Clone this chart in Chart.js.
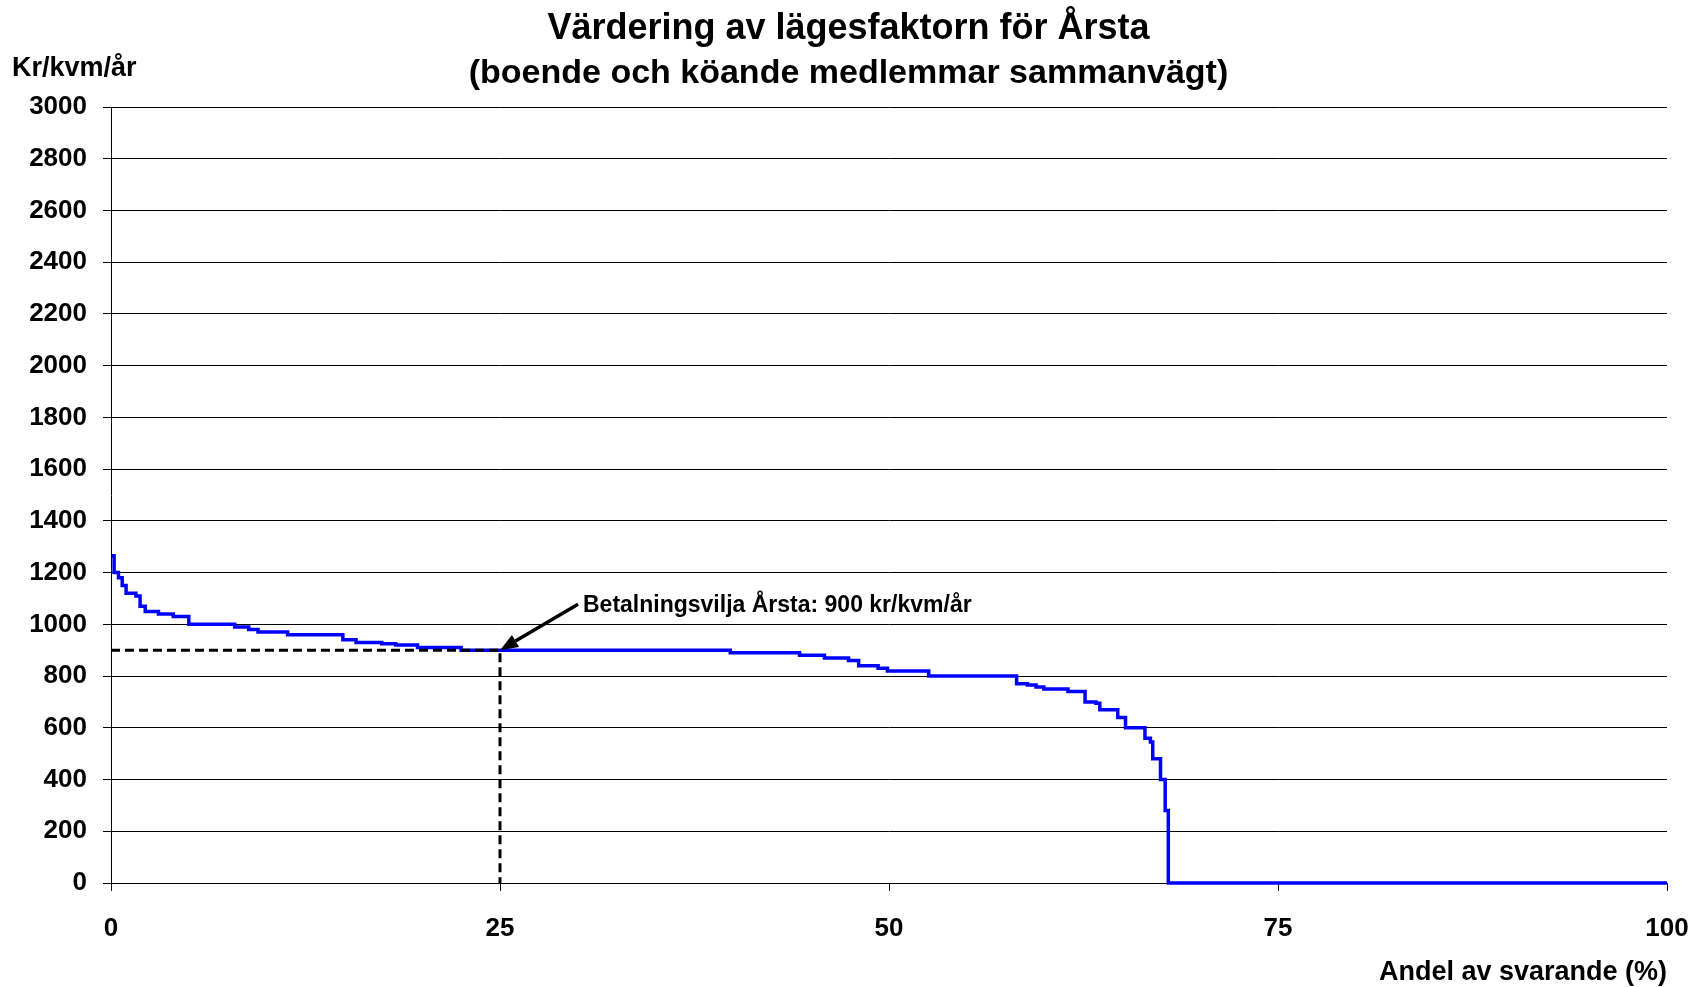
<!DOCTYPE html>
<html>
<head>
<meta charset="utf-8">
<script src="https://cdn.jsdelivr.net/npm/chart.js@4"></script>
<style>
  html, body { margin: 0; padding: 0; background: #fff; }
  #wrap { width: 1697px; height: 987px; position: relative; }
</style>
</head>
<body>
<div id="wrap"><canvas id="chart"></canvas></div>
<script>
// texter
const titel = 'Värdering av lägesfaktorn för Årsta';
const undertitel = '(boende och köande medlemmar sammanvägt)';
const yEnhet = 'Kr/kvm/år';
const xTitel = 'Andel av svarande (%)';

// kurvan: andel av svarande (%) där varje nivå börjar, och kr/kvm/år
const andel = [0.05, 0.2, 0.48, 0.72, 0.97, 1.6, 1.87, 2.2, 3.05, 4.0,
  5.0, 7.95, 8.85, 9.45, 11.35, 14.9, 15.75, 17.4, 18.3, 19.7,
  22.5, 39.8, 44.25, 45.85, 47.4, 48.05, 49.3, 49.9, 52.55, 58.2,
  58.9, 59.45, 59.95, 61.5, 62.6, 63.3, 63.55, 64.7, 65.2, 66.45,
  66.8, 66.95, 67.45, 67.75, 67.95, 100];
const krKvm = [1265, 1200, 1180, 1150, 1120, 1110, 1070, 1050, 1040, 1030,
  1000, 990, 980, 970, 960, 940, 930, 925, 920, 910,
  900, 890, 880, 870, 860, 840, 830, 820, 800, 770,
  765, 758, 750, 740, 700, 695, 670, 640, 600, 560,
  545, 480, 400, 280, 0, 0];

// betalningsvilja
const betalningsvilja = 900;
const viljaAndel = 25;
const viljaText = 'Betalningsvilja Årsta: ' + betalningsvilja + ' kr/kvm/år';

// axlar
const yTicks = [0, 200, 400, 600, 800, 1000, 1200, 1400, 1600, 1800, 2000, 2200, 2400, 2600, 2800, 3000];
const xTicks = [0, 25, 50, 75, 100];

const FONT = '"Liberation Sans", Arial, sans-serif';

const textPlugin = {
  id: 'texter',
  afterDraw(chart) {
    const { ctx, chartArea, scales: { x, y } } = chart;
    ctx.save();
    ctx.fillStyle = '#000';
    ctx.textBaseline = 'middle';

    // rubrik
    ctx.textAlign = 'center';
    ctx.font = 'bold 36px ' + FONT;
    ctx.fillText(titel, chart.width / 2, 29);
    ctx.font = 'bold 34px ' + FONT;
    ctx.fillText(undertitel, chart.width / 2, 74);

    // axeltitlar
    ctx.textAlign = 'left';
    ctx.font = 'bold 27px ' + FONT;
    ctx.fillText(yEnhet, 12, 69);
    ctx.textAlign = 'right';
    ctx.fillText(xTitel, chartArea.right, 973);

    // pil till betalningsviljan
    const tipX = x.getPixelForValue(viljaAndel);
    const tipY = y.getPixelForValue(betalningsvilja);
    const tailX = tipX + 78, tailY = tipY - 46;
    const ang = Math.atan2(tipY - tailY, tipX - tailX);
    const headLen = 18, headW = 7;
    const baseX = tipX - headLen * Math.cos(ang), baseY = tipY - headLen * Math.sin(ang);
    ctx.strokeStyle = '#000';
    ctx.lineWidth = 3.5;
    ctx.beginPath();
    ctx.moveTo(tailX, tailY);
    ctx.lineTo(baseX, baseY);
    ctx.stroke();
    ctx.beginPath();
    ctx.moveTo(tipX, tipY);
    ctx.lineTo(baseX + headW * Math.sin(ang), baseY - headW * Math.cos(ang));
    ctx.lineTo(baseX - headW * Math.sin(ang), baseY + headW * Math.cos(ang));
    ctx.closePath();
    ctx.fill();

    ctx.textAlign = 'left';
    ctx.font = 'bold 23px ' + FONT;
    ctx.fillText(viljaText, tailX + 5, tailY + 1);
    ctx.restore();
  }
};

new Chart(document.getElementById('chart'), {
  type: 'line',
  data: {
    datasets: [
      {
        // streckade hjälplinjer
        data: [{ x: 0, y: betalningsvilja }, { x: viljaAndel, y: betalningsvilja }, { x: viljaAndel, y: 0 }],
        borderColor: '#000',
        borderWidth: 3,
        borderDash: [9, 5],
        pointRadius: 0,
        fill: false,
        clip: false
      },
      {
        data: andel.map((v, i) => ({ x: v, y: krKvm[i] })),
        borderColor: '#0000ff',
        borderWidth: 3.5,
        stepped: 'before',
        pointRadius: 0,
        fill: false,
        clip: false
      }
    ]
  },
  options: {
    responsive: true,
    maintainAspectRatio: false,
    devicePixelRatio: 1,
    animation: false,
    layout: { padding: { top: 107, right: 30, bottom: 0, left: 0 } },
    plugins: {
      legend: { display: false },
      tooltip: { enabled: false },
      title: { display: false }
    },
    scales: {
      x: {
        type: 'linear',
        min: 0,
        max: 100,
        afterBuildTicks: s => { s.ticks = xTicks.map(v => ({ value: v })); },
        afterFit: s => { s.height = 104; s.paddingLeft = 0; s.paddingRight = 0; },
        grid: { drawOnChartArea: false, drawTicks: true, tickLength: 8, color: '#000' },
        border: { color: '#000', width: 1 },
        ticks: {
          color: '#000',
          padding: 22,
          maxRotation: 0,
          callback: v => String(v),
          font: { family: FONT, size: 26, weight: 'bold' }
        }
      },
      y: {
        min: 0,
        max: 3000,
        afterBuildTicks: s => { s.ticks = yTicks.map(v => ({ value: v })); },
        afterFit: s => { s.width = 111; s.paddingTop = 0; s.paddingBottom = 0; },
        grid: { drawOnChartArea: true, drawTicks: true, tickLength: 8, color: '#000', lineWidth: 1 },
        border: { color: '#000', width: 1 },
        ticks: {
          color: '#000',
          padding: 16,
          callback: v => String(v),
          font: { family: FONT, size: 26, weight: 'bold' }
        }
      }
    }
  },
  plugins: [textPlugin]
});
</script>
</body>
</html>
